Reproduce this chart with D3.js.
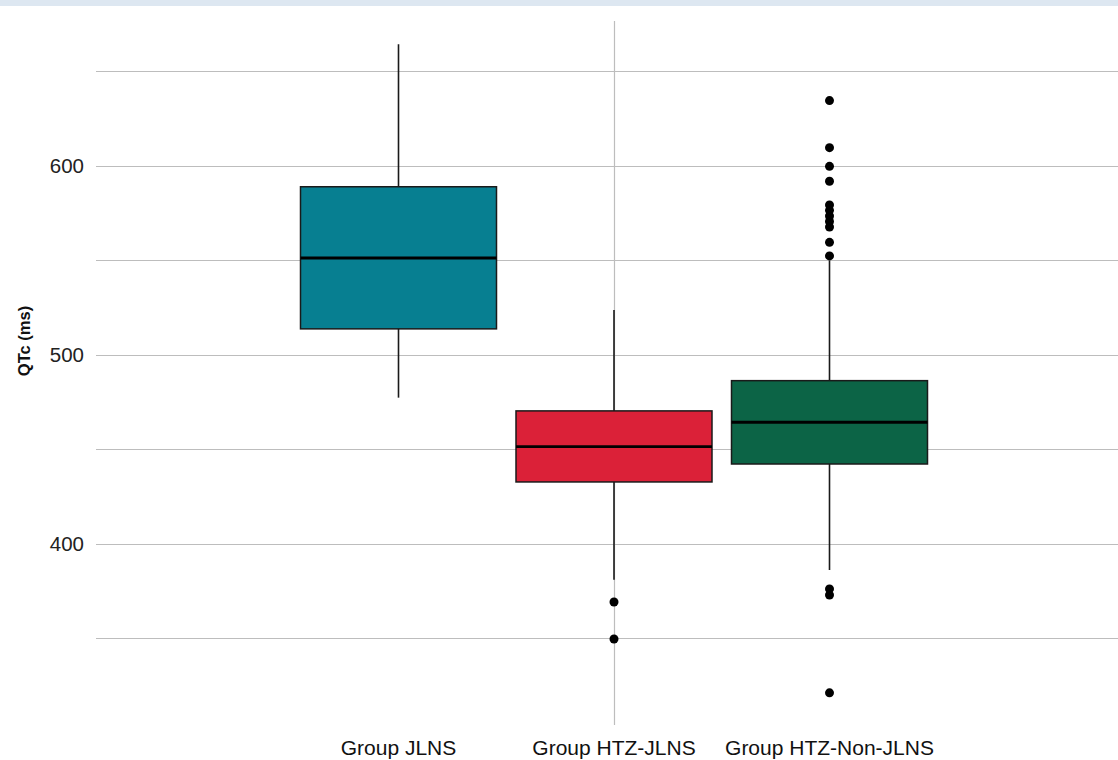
<!DOCTYPE html>
<html><head><meta charset="utf-8">
<script src="https://cdn.jsdelivr.net/npm/d3@7"></script>
<style>html,body{margin:0;padding:0;background:#fff;}svg{display:block;}</style>
</head><body>
<svg id="chart" width="1118" height="760"></svg>
<script>
const categories = ["Group JLNS", "Group HTZ-JLNS", "Group HTZ-Non-JLNS"];
const colors = ["#077f91", "#db2138", "#0c6446"];
const whiskerLow = [477.4, 381, 386.2];
const q1 = [513.8, 432.8, 442.3];
const median = [551.3, 451.5, 464.4];
const q3 = [589, 470.4, 486.4];
const whiskerHigh = [664.4, 523.8, 550];
const outliers = [
  [],
  [369.3, 349.7],
  [634.6, 609.7, 599.8, 591.9, 579.4, 576.5, 573.5, 570.6, 567.7, 559.6, 552.4, 376.2, 373.0, 321.2]
];
const gridValues = [350, 400, 450, 500, 550, 600, 650];
const tickLabels = [400, 500, 600];
const yTitle = "QTc (ms)";

(function () {
const svg = d3.select("#chart");
const W = 1118;
const plotLeft = 96, plotTop = 21, plotBottom = 725;

svg.append("rect").attr("x", 0).attr("y", 0).attr("width", W).attr("height", 6).attr("fill", "#dde7f1");

const y = d3.scaleLinear().domain([304.2, 676.7]).range([plotBottom, plotTop]);
const x = d3.scalePoint().domain(categories).range([398.5, 829.5]);
const boxW = 196;

svg.append("g").selectAll("line").data(gridValues).join("line")
  .attr("x1", plotLeft).attr("x2", W)
  .attr("y1", d => Math.round(y(d)) + 0.5).attr("y2", d => Math.round(y(d)) + 0.5)
  .attr("stroke", "#bdbdbd").attr("stroke-width", 1.2);

svg.append("line")
  .attr("x1", Math.round(x(categories[1])) + 0.5).attr("x2", Math.round(x(categories[1])) + 0.5)
  .attr("y1", plotTop).attr("y2", plotBottom)
  .attr("stroke", "#bdbdbd").attr("stroke-width", 1.2);

svg.append("g").selectAll("text").data(tickLabels).join("text")
  .attr("x", 84).attr("y", d => y(d))
  .attr("dy", "0.35em")
  .attr("text-anchor", "end")
  .attr("font-family", "Liberation Sans, Arial, sans-serif")
  .attr("font-size", 20.5).attr("fill", "#222")
  .text(d => d);

svg.append("text")
  .attr("transform", "translate(30,341) rotate(-90)")
  .attr("text-anchor", "middle")
  .attr("font-family", "Liberation Sans, Arial, sans-serif")
  .attr("font-weight", "bold")
  .attr("font-size", 16.5)
  .attr("fill", "#111")
  .text(yTitle);

const g = svg.append("g");
categories.forEach((c, i) => {
  const cx = x(c);
  const gg = g.append("g");
  gg.append("line").attr("x1", cx).attr("x2", cx)
    .attr("y1", y(whiskerHigh[i])).attr("y2", y(q3[i]))
    .attr("stroke", "#1a1a1a").attr("stroke-width", 1.6);
  gg.append("line").attr("x1", cx).attr("x2", cx)
    .attr("y1", y(q1[i])).attr("y2", y(whiskerLow[i]))
    .attr("stroke", "#1a1a1a").attr("stroke-width", 1.6);
  gg.append("rect")
    .attr("x", cx - boxW / 2).attr("width", boxW)
    .attr("y", y(q3[i])).attr("height", y(q1[i]) - y(q3[i]))
    .attr("fill", colors[i]).attr("stroke", "#1a1a1a").attr("stroke-width", 1.5);
  gg.append("line").attr("x1", cx - boxW / 2).attr("x2", cx + boxW / 2)
    .attr("y1", y(median[i])).attr("y2", y(median[i]))
    .attr("stroke", "#000").attr("stroke-width", 2.8);
  gg.selectAll("circle").data(outliers[i]).join("circle")
    .attr("cx", cx).attr("cy", d => y(d)).attr("r", 4.5).attr("fill", "#000");
});

svg.append("g").selectAll("text").data(categories).join("text")
  .attr("x", d => x(d)).attr("y", 755)
  .attr("text-anchor", "middle")
  .attr("font-family", "Liberation Sans, Arial, sans-serif")
  .attr("font-size", 21).attr("fill", "#111")
  .text(d => d);
})();
</script>
</body></html>
